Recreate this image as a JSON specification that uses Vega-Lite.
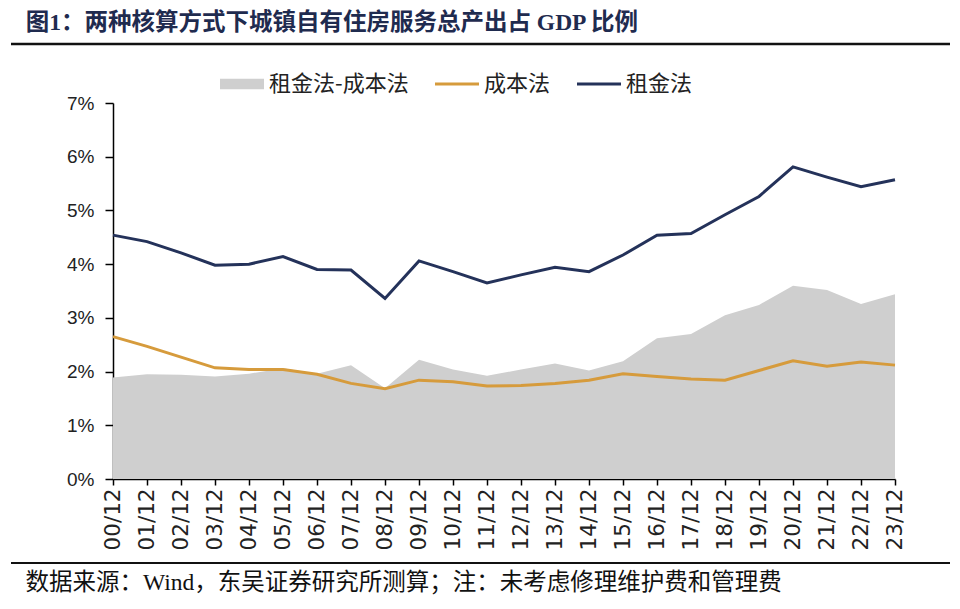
{
  "$schema": "https://vega.github.io/schema/vega-lite/v6.json",
  "width": 782,
  "height": 376,
  "autosize": {"type": "none"},
  "padding": {"left": 113, "top": 103, "right": 65, "bottom": 130},
  "background": "white",
  "config": {"view": {"stroke": null}},
  "title": {
    "text": "图1：两种核算方式下城镇自有住房服务总产出占 GDP 比例",
    "anchor": "start",
    "dx": 16,
    "offset": -11,
    "baseline": "alphabetic",
    "font": "Liberation Serif, Noto Sans CJK SC",
    "fontSize": 23.5,
    "fontWeight": "bold",
    "color": "#1f2b4f"
  },
  "data": {
    "values": [
      {"year": "00/12", "租金法": 4.54, "成本法": 2.65, "租金法-成本法": 1.89},
      {"year": "01/12", "租金法": 4.42, "成本法": 2.47, "租金法-成本法": 1.95},
      {"year": "02/12", "租金法": 4.21, "成本法": 2.27, "租金法-成本法": 1.94},
      {"year": "03/12", "租金法": 3.98, "成本法": 2.07, "租金法-成本法": 1.91},
      {"year": "04/12", "租金法": 4.00, "成本法": 2.04, "租金法-成本法": 1.96},
      {"year": "05/12", "租金法": 4.14, "成本法": 2.04, "租金法-成本法": 2.06},
      {"year": "06/12", "租金法": 3.90, "成本法": 1.95, "租金法-成本法": 1.96},
      {"year": "07/12", "租金法": 3.89, "成本法": 1.78, "租金法-成本法": 2.12},
      {"year": "08/12", "租金法": 3.36, "成本法": 1.68, "租金法-成本法": 1.69},
      {"year": "09/12", "租金法": 4.06, "成本法": 1.84, "租金法-成本法": 2.22},
      {"year": "10/12", "租金法": 3.86, "成本法": 1.81, "租金法-成本法": 2.04},
      {"year": "11/12", "租金法": 3.65, "成本法": 1.73, "租金法-成本法": 1.92},
      {"year": "12/12", "租金法": 3.80, "成本法": 1.74, "租金法-成本法": 2.04},
      {"year": "13/12", "租金法": 3.94, "成本法": 1.78, "租金法-成本法": 2.15},
      {"year": "14/12", "租金法": 3.86, "成本法": 1.84, "租金法-成本法": 2.02},
      {"year": "15/12", "租金法": 4.17, "成本法": 1.96, "租金法-成本法": 2.19},
      {"year": "16/12", "租金法": 4.54, "成本法": 1.91, "租金法-成本法": 2.62},
      {"year": "17/12", "租金法": 4.57, "成本法": 1.86, "租金法-成本法": 2.70},
      {"year": "18/12", "租金法": 4.92, "成本法": 1.84, "租金法-成本法": 3.05},
      {"year": "19/12", "租金法": 5.26, "成本法": 2.02, "租金法-成本法": 3.24},
      {"year": "20/12", "租金法": 5.81, "成本法": 2.20, "租金法-成本法": 3.60},
      {"year": "21/12", "租金法": 5.62, "成本法": 2.10, "租金法-成本法": 3.52},
      {"year": "22/12", "租金法": 5.44, "成本法": 2.18, "租金法-成本法": 3.26},
      {"year": "23/12", "租金法": 5.57, "成本法": 2.12, "租金法-成本法": 3.44}
    ]
  },
  "encoding": {
    "x": {
      "field": "year",
      "type": "ordinal",
      "scale": {"type": "point", "padding": 0},
      "axis": {
        "title": "数据来源：Wind，东吴证券研究所测算；注：未考虑修理维护费和管理费",
        "titleFont": "Liberation Serif, Noto Sans CJK SC",
        "titleFontSize": 23.5,
        "titleFontWeight": "normal",
        "titleColor": "#111111",
        "titleAnchor": "start",
        "titleAlign": "left",
        "titleBaseline": "alphabetic",
        "titleX": -88,
        "titleY": 110,
        "labelAngle": 270,
        "labelFont": "DejaVu Sans",
        "labelFontSize": 21.5,
        "labelColor": "#222222",
        "labelPadding": 3,
        "labelOverlap": false,
        "tickSize": 6,
        "tickColor": "#000000",
        "tickWidth": 1.5,
        "domainColor": "#000000",
        "domainWidth": 1.5,
        "grid": false
      }
    },
    "y": {
      "field": "value",
      "type": "quantitative",
      "scale": {"domain": [0, 7], "nice": false},
      "axis": {
        "title": null,
        "values": [0, 1, 2, 3, 4, 5, 6, 7],
        "labelExpr": "datum.value + '%'",
        "labelFont": "Liberation Sans",
        "labelFontSize": 19,
        "labelColor": "#222222",
        "labelPadding": 11,
        "tickSize": 8,
        "tickColor": "#000000",
        "tickWidth": 1.5,
        "domainColor": "#000000",
        "domainWidth": 1.5,
        "grid": false
      }
    },
    "color": {
      "field": "series",
      "type": "nominal",
      "scale": {
        "domain": ["租金法-成本法", "成本法", "租金法"],
        "range": ["#cfcfcf", "#d69b3c", "#24325a"]
      },
      "legend": {
        "title": null,
        "orient": "none",
        "direction": "horizontal",
        "legendX": 107,
        "legendY": -41,
        "padding": 0,
        "symbolSize": 1936,
        "labelFont": "Noto Sans CJK SC",
        "labelFontSize": 22,
        "labelColor": "#222222",
        "labelOffset": 5,
        "columnPadding": 26,
        "encode": {
          "symbols": {
            "update": {
              "shape": {"signal": "datum.value === '租金法-成本法' ? 'M-1,-0.24H1V0.24H-1Z' : 'M-1,-0.07H1V0.07H-1Z'"},
              "fill": {"scale": "color", "field": "value"},
              "stroke": {"value": "transparent"},
              "strokeWidth": {"value": 0},
              "opacity": {"value": 1}
            }
          }
        }
      }
    }
  },
  "layer": [
    {
      "transform": [{"fold": ["租金法-成本法"], "as": ["series", "value"]}],
      "mark": {"type": "area", "opacity": 1}
    },
    {
      "transform": [{"fold": ["成本法", "租金法"], "as": ["series", "value"]}],
      "mark": {"type": "line", "strokeWidth": 3, "strokeJoin": "miter"}
    },
    {
      "data": {"values": [{"pos": "top"}]},
      "mark": {"type": "rule", "color": "#111111", "strokeWidth": 2.5},
      "encoding": {
        "x": {"value": -102},
        "x2": {"value": 837},
        "y": {"value": -59},
        "color": null
      }
    },
    {
      "data": {"values": [{"pos": "bottom"}]},
      "mark": {"type": "rule", "color": "#111111", "strokeWidth": 2},
      "encoding": {
        "x": {"value": -102},
        "x2": {"value": 837},
        "y": {"value": 460},
        "color": null
      }
    }
  ]
}
